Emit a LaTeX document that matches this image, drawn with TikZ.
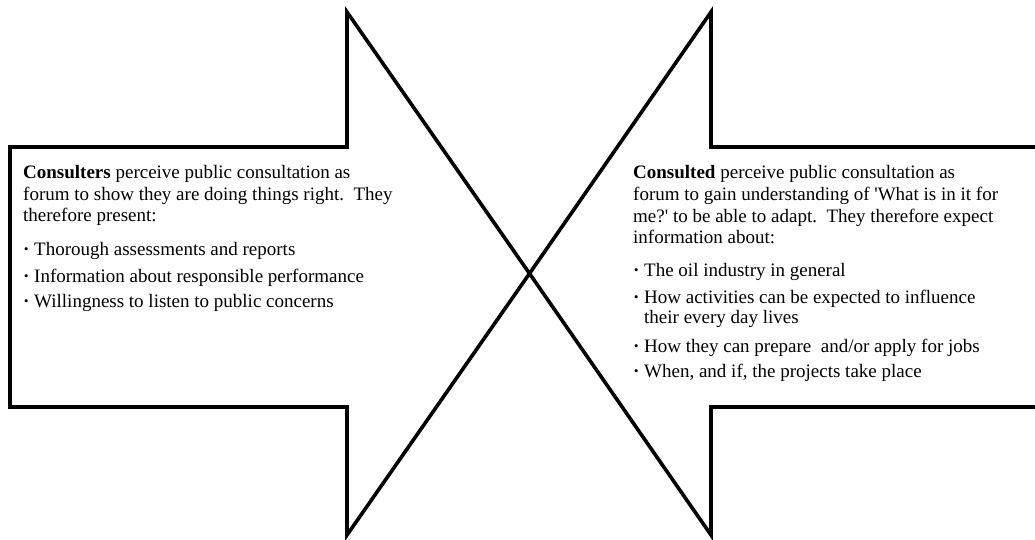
\documentclass[tikz,border=0pt]{standalone}
\usepackage{fontspec}
\setmainfont{Liberation Serif}
\newcommand\itembul{\makebox[11pt][l]{\textbf{·}}}
\tikzset{
  arrowshape/.style={draw=black, line width=3.6pt, line join=miter, miter limit=10, fill=white},
  txt/.style={anchor=base west, inner sep=0pt, font=\fontsize{19}{21}\selectfont},
}
\begin{document}
\begin{tikzpicture}[x=1pt,y=-1pt]
\useasboundingbox (0,0) rectangle (1035,539);
\clip (0,0) rectangle (1035,539);
\fill[white] (0,0) rectangle (1035,539);
% left arrow (pointing right)
\draw[arrowshape] (10,147) -- (347,147) -- (347,12) -- (529.5,273.5) -- (347,535) -- (347,407) -- (10,407) -- cycle;
% right arrow (pointing left)
\draw[arrowshape] (1045,147) -- (711,147) -- (711,12) -- (529.5,273.5) -- (711,535) -- (711,407) -- (1045,407);
% left text
\node[txt] (l1) at (23,178) {\textbf{Consulters} perceive public consultation as};
\node[txt] (l2) at (23,200) {forum to show they are doing things right.\ \ They};
\node[txt] (l3) at (23,221) {therefore present:};
\node[txt] (l4) at (23,255) {\itembul Thorough assessments and reports};
\node[txt] (l5) at (23,282) {\itembul Information about responsible performance};
\node[txt] (l6) at (23,307) {\itembul Willingness to listen to public concerns};
% right text
\node[txt] (r1) at (633,178) {\textbf{Consulted} perceive public consultation as};
\node[txt] (r2) at (633,200) {forum to gain understanding of \textquotesingle What is in it for};
\node[txt] (r3) at (633,222) {me?\textquotesingle\ to be able to adapt.\ \ They therefore expect};
\node[txt] (r4) at (633,243) {information about:};
\node[txt] (r5) at (633,276) {\itembul The oil industry in general};
\node[txt] (r6) at (633,303) {\itembul How activities can be expected to influence};
\node[txt] (r7) at (644,323) {their every day lives};
\node[txt] (r8) at (633,352) {\itembul How they can prepare\ \ and/or apply for jobs};
\node[txt] (r9) at (633,377) {\itembul When, and if, the projects take place};
\end{tikzpicture}
\end{document}
